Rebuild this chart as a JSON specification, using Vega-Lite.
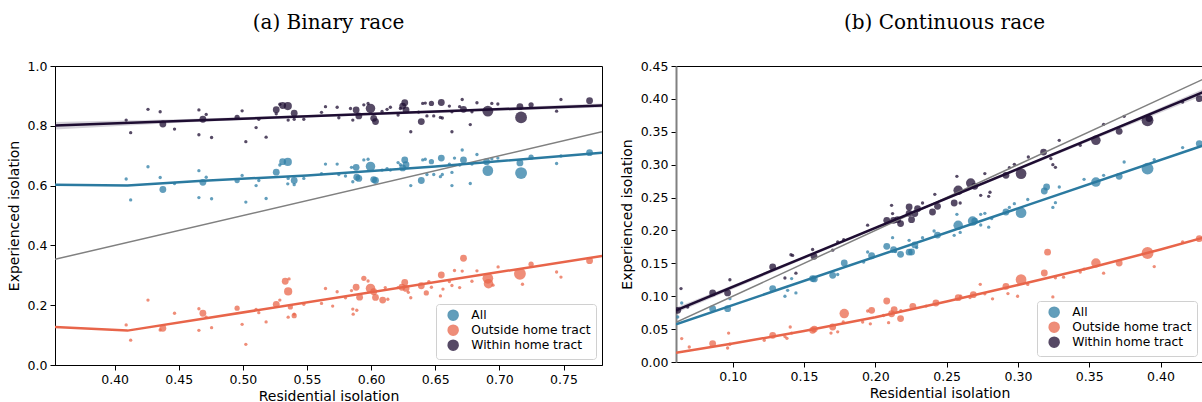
{
  "$schema": "https://vega.github.io/schema/vega-lite/v6.json",
  "padding": {"left": 6, "top": 12, "right": 0, "bottom": 0},
  "spacing": 17,
  "resolve": {"scale": {"color": "independent", "stroke": "independent", "size": "independent"}, "legend": {"color": "independent"}},
  "config": {
    "font": "DejaVu Sans",
    "axis": {"labelFont": "DejaVu Sans", "titleFont": "DejaVu Sans", "labelFontSize": 12.5, "titleFontSize": 14, "titleFontWeight": "normal", "labelColor": "#000", "titleColor": "#000", "tickColor": "#000", "domainColor": "#000", "tickSize": 5, "tickWidth": 1, "domainWidth": 1, "labelPadding": 3, "grid": false, "labelOverlap": false},
    "axisY": {"titlePadding": 6},
    "axisX": {"titlePadding": 4},
    "title": {"font": "DejaVu Serif", "fontSize": 20, "fontWeight": "normal", "color": "#000", "anchor": "middle", "baseline": "alphabetic", "offset": 27},
    "legend": {"orient": "bottom-right", "offset": 6, "labelFont": "DejaVu Sans", "labelFontSize": 12.3, "labelColor": "#000", "symbolType": "circle", "symbolSize": 100, "padding": 5, "rowPadding": -2, "strokeColor": "#d0d0d0", "fillColor": "rgba(255,255,255,0.85)", "cornerRadius": 3, "labelOffset": 12, "symbolOffset": 6},
    "view": {"stroke": "#000", "strokeWidth": 1}
  },
  "datasets": {
    "a_pts": [
      {"g":"Within home tract","x":0.409,"y":0.819,"s":1},{"g":"Within home tract","x":0.4125,"y":0.777,"s":1},{"g":"Within home tract","x":0.426,"y":0.855,"s":1},{"g":"Within home tract","x":0.4355,"y":0.847,"s":1},{"g":"Within home tract","x":0.4376,"y":0.806,"s":3},{"g":"Within home tract","x":0.4467,"y":0.789,"s":1},{"g":"Within home tract","x":0.4657,"y":0.853,"s":1},{"g":"Within home tract","x":0.4688,"y":0.822,"s":3},{"g":"Within home tract","x":0.4714,"y":0.838,"s":1},{"g":"Within home tract","x":0.4657,"y":0.770,"s":1},{"g":"Within home tract","x":0.4756,"y":0.761,"s":1},{"g":"Within home tract","x":0.4955,"y":0.828,"s":2},{"g":"Within home tract","x":0.4994,"y":0.850,"s":1},{"g":"Within home tract","x":0.5023,"y":0.747,"s":1},{"g":"Within home tract","x":0.5103,"y":0.794,"s":1},{"g":"Within home tract","x":0.5124,"y":0.822,"s":1},{"g":"Within home tract","x":0.5181,"y":0.762,"s":1},{"g":"Within home tract","x":0.526,"y":0.854,"s":3},{"g":"Within home tract","x":0.5288,"y":0.872,"s":1},{"g":"Within home tract","x":0.531,"y":0.868,"s":3},{"g":"Within home tract","x":0.535,"y":0.866,"s":4},{"g":"Within home tract","x":0.5353,"y":0.819,"s":1},{"g":"Within home tract","x":0.54,"y":0.842,"s":3},{"g":"Within home tract","x":0.54,"y":0.822,"s":1},{"g":"Within home tract","x":0.5475,"y":0.822,"s":1},{"g":"Within home tract","x":0.526,"y":0.84,"s":1},
      {"g":"Within home tract","x":0.5613,"y":0.845,"s":1},{"g":"Within home tract","x":0.5644,"y":0.864,"s":1},{"g":"Within home tract","x":0.5735,"y":0.862,"s":1},{"g":"Within home tract","x":0.5748,"y":0.827,"s":1},{"g":"Within home tract","x":0.5839,"y":0.858,"s":1},{"g":"Within home tract","x":0.5857,"y":0.819,"s":1},{"g":"Within home tract","x":0.5883,"y":0.853,"s":3},{"g":"Within home tract","x":0.5904,"y":0.833,"s":3},{"g":"Within home tract","x":0.5943,"y":0.870,"s":1},{"g":"Within home tract","x":0.5976,"y":0.875,"s":1},{"g":"Within home tract","x":0.5995,"y":0.858,"s":5},{"g":"Within home tract","x":0.602,"y":0.825,"s":3},{"g":"Within home tract","x":0.6034,"y":0.814,"s":3},{"g":"Within home tract","x":0.6085,"y":0.848,"s":1},{"g":"Within home tract","x":0.6124,"y":0.855,"s":1},{"g":"Within home tract","x":0.615,"y":0.862,"s":1},{"g":"Within home tract","x":0.621,"y":0.836,"s":1},{"g":"Within home tract","x":0.6228,"y":0.858,"s":1},{"g":"Within home tract","x":0.6246,"y":0.866,"s":3},{"g":"Within home tract","x":0.6262,"y":0.877,"s":3},{"g":"Within home tract","x":0.6272,"y":0.853,"s":3},{"g":"Within home tract","x":0.6309,"y":0.780,"s":1},{"g":"Within home tract","x":0.637,"y":0.846,"s":1},{"g":"Within home tract","x":0.6391,"y":0.814,"s":3},{"g":"Within home tract","x":0.6402,"y":0.875,"s":1},{"g":"Within home tract","x":0.6422,"y":0.876,"s":1},{"g":"Within home tract","x":0.6435,"y":0.833,"s":1},{"g":"Within home tract","x":0.647,"y":0.875,"s":2},{"g":"Within home tract","x":0.6488,"y":0.833,"s":1},{"g":"Within home tract","x":0.6547,"y":0.878,"s":3},{"g":"Within home tract","x":0.654,"y":0.828,"s":1},{"g":"Within home tract","x":0.6555,"y":0.826,"s":1},{"g":"Within home tract","x":0.661,"y":0.866,"s":1},{"g":"Within home tract","x":0.663,"y":0.847,"s":1},{"g":"Within home tract","x":0.663,"y":0.780,"s":1},{"g":"Within home tract","x":0.669,"y":0.864,"s":1},{"g":"Within home tract","x":0.671,"y":0.888,"s":1},{"g":"Within home tract","x":0.672,"y":0.855,"s":3},{"g":"Within home tract","x":0.6773,"y":0.804,"s":1},{"g":"Within home tract","x":0.6786,"y":0.847,"s":1},{"g":"Within home tract","x":0.6825,"y":0.877,"s":1},{"g":"Within home tract","x":0.691,"y":0.849,"s":6},{"g":"Within home tract","x":0.6941,"y":0.875,"s":1},{"g":"Within home tract","x":0.6988,"y":0.873,"s":1},{"g":"Within home tract","x":0.716,"y":0.864,"s":3},{"g":"Within home tract","x":0.7169,"y":0.828,"s":7},{"g":"Within home tract","x":0.7247,"y":0.870,"s":2},{"g":"Within home tract","x":0.7446,"y":0.849,"s":1},{"g":"Within home tract","x":0.748,"y":0.888,"s":1},{"g":"Within home tract","x":0.7703,"y":0.884,"s":3},
      {"g":"All","x":0.409,"y":0.622,"s":1},{"g":"All","x":0.4125,"y":0.552,"s":1},{"g":"All","x":0.426,"y":0.663,"s":1},{"g":"All","x":0.4355,"y":0.627,"s":1},{"g":"All","x":0.4376,"y":0.587,"s":3},{"g":"All","x":0.4467,"y":0.607,"s":1},{"g":"All","x":0.4657,"y":0.650,"s":1},{"g":"All","x":0.4688,"y":0.611,"s":3},{"g":"All","x":0.4714,"y":0.628,"s":1},{"g":"All","x":0.4657,"y":0.560,"s":1},{"g":"All","x":0.4756,"y":0.556,"s":1},{"g":"All","x":0.4955,"y":0.617,"s":2},{"g":"All","x":0.4994,"y":0.634,"s":1},{"g":"All","x":0.5023,"y":0.545,"s":1},{"g":"All","x":0.5103,"y":0.600,"s":1},{"g":"All","x":0.5124,"y":0.617,"s":1},{"g":"All","x":0.5181,"y":0.557,"s":1},{"g":"All","x":0.526,"y":0.645,"s":3},{"g":"All","x":0.5288,"y":0.669,"s":1},{"g":"All","x":0.531,"y":0.68,"s":3},{"g":"All","x":0.535,"y":0.679,"s":4},{"g":"All","x":0.5353,"y":0.624,"s":1},{"g":"All","x":0.54,"y":0.617,"s":3},{"g":"All","x":0.54,"y":0.603,"s":1},{"g":"All","x":0.535,"y":0.606,"s":1},{"g":"All","x":0.5475,"y":0.624,"s":1},
      {"g":"All","x":0.5613,"y":0.640,"s":1},{"g":"All","x":0.5644,"y":0.672,"s":1},{"g":"All","x":0.5735,"y":0.672,"s":1},{"g":"All","x":0.5748,"y":0.637,"s":1},{"g":"All","x":0.58,"y":0.632,"s":1},{"g":"All","x":0.5847,"y":0.661,"s":1},{"g":"All","x":0.5857,"y":0.613,"s":1},{"g":"All","x":0.5883,"y":0.661,"s":3},{"g":"All","x":0.5888,"y":0.628,"s":3},{"g":"All","x":0.5904,"y":0.624,"s":3},{"g":"All","x":0.5943,"y":0.686,"s":1},{"g":"All","x":0.5976,"y":0.688,"s":1},{"g":"All","x":0.5995,"y":0.664,"s":5},{"g":"All","x":0.602,"y":0.620,"s":3},{"g":"All","x":0.6034,"y":0.617,"s":3},{"g":"All","x":0.6085,"y":0.652,"s":1},{"g":"All","x":0.6124,"y":0.657,"s":1},{"g":"All","x":0.615,"y":0.652,"s":1},{"g":"All","x":0.621,"y":0.677,"s":1},{"g":"All","x":0.6228,"y":0.67,"s":1},{"g":"All","x":0.6246,"y":0.659,"s":3},{"g":"All","x":0.6262,"y":0.686,"s":3},{"g":"All","x":0.6272,"y":0.67,"s":3},{"g":"All","x":0.6309,"y":0.600,"s":1},{"g":"All","x":0.6391,"y":0.617,"s":3},{"g":"All","x":0.6402,"y":0.686,"s":1},{"g":"All","x":0.6422,"y":0.688,"s":1},{"g":"All","x":0.6435,"y":0.637,"s":1},{"g":"All","x":0.647,"y":0.680,"s":2},{"g":"All","x":0.6488,"y":0.637,"s":1},{"g":"All","x":0.6547,"y":0.692,"s":3},{"g":"All","x":0.654,"y":0.630,"s":1},{"g":"All","x":0.6555,"y":0.637,"s":1},{"g":"All","x":0.661,"y":0.672,"s":1},{"g":"All","x":0.663,"y":0.644,"s":1},{"g":"All","x":0.663,"y":0.600,"s":1},{"g":"All","x":0.665,"y":0.692,"s":1},{"g":"All","x":0.669,"y":0.669,"s":1},{"g":"All","x":0.671,"y":0.719,"s":1},{"g":"All","x":0.672,"y":0.686,"s":3},{"g":"All","x":0.6773,"y":0.607,"s":1},{"g":"All","x":0.6786,"y":0.672,"s":1},{"g":"All","x":0.6825,"y":0.704,"s":1},{"g":"All","x":0.691,"y":0.650,"s":6},{"g":"All","x":0.69,"y":0.68,"s":3},{"g":"All","x":0.6941,"y":0.69,"s":1},{"g":"All","x":0.6988,"y":0.692,"s":1},{"g":"All","x":0.716,"y":0.676,"s":3},{"g":"All","x":0.7169,"y":0.642,"s":7},{"g":"All","x":0.7247,"y":0.695,"s":2},{"g":"All","x":0.7446,"y":0.674,"s":1},{"g":"All","x":0.748,"y":0.699,"s":1},{"g":"All","x":0.7703,"y":0.710,"s":3},
      {"g":"Outside home tract","x":0.409,"y":0.134,"s":1},{"g":"Outside home tract","x":0.4125,"y":0.083,"s":1},{"g":"Outside home tract","x":0.426,"y":0.217,"s":1},{"g":"Outside home tract","x":0.4355,"y":0.117,"s":1},{"g":"Outside home tract","x":0.4376,"y":0.123,"s":3},{"g":"Outside home tract","x":0.4467,"y":0.173,"s":1},{"g":"Outside home tract","x":0.4657,"y":0.188,"s":1},{"g":"Outside home tract","x":0.4688,"y":0.173,"s":3},{"g":"Outside home tract","x":0.4714,"y":0.160,"s":1},{"g":"Outside home tract","x":0.4657,"y":0.116,"s":1},{"g":"Outside home tract","x":0.4756,"y":0.125,"s":1},{"g":"Outside home tract","x":0.4955,"y":0.190,"s":2},{"g":"Outside home tract","x":0.4994,"y":0.136,"s":1},{"g":"Outside home tract","x":0.5023,"y":0.069,"s":1},{"g":"Outside home tract","x":0.5103,"y":0.186,"s":1},{"g":"Outside home tract","x":0.5124,"y":0.175,"s":1},{"g":"Outside home tract","x":0.5181,"y":0.144,"s":1},{"g":"Outside home tract","x":0.526,"y":0.203,"s":3},{"g":"Outside home tract","x":0.5288,"y":0.217,"s":1},{"g":"Outside home tract","x":0.533,"y":0.280,"s":3},{"g":"Outside home tract","x":0.5353,"y":0.246,"s":4},{"g":"Outside home tract","x":0.536,"y":0.288,"s":1},{"g":"Outside home tract","x":0.5353,"y":0.160,"s":1},{"g":"Outside home tract","x":0.537,"y":0.194,"s":2},{"g":"Outside home tract","x":0.54,"y":0.17,"s":1},{"g":"Outside home tract","x":0.54,"y":0.165,"s":2},{"g":"Outside home tract","x":0.5475,"y":0.203,"s":1},
      {"g":"Outside home tract","x":0.5613,"y":0.206,"s":1},{"g":"Outside home tract","x":0.5644,"y":0.256,"s":1},{"g":"Outside home tract","x":0.570,"y":0.197,"s":1},{"g":"Outside home tract","x":0.5735,"y":0.245,"s":1},{"g":"Outside home tract","x":0.58,"y":0.225,"s":1},{"g":"Outside home tract","x":0.5847,"y":0.249,"s":1},{"g":"Outside home tract","x":0.5857,"y":0.187,"s":1},{"g":"Outside home tract","x":0.586,"y":0.17,"s":1},{"g":"Outside home tract","x":0.5888,"y":0.183,"s":1},{"g":"Outside home tract","x":0.5883,"y":0.26,"s":3},{"g":"Outside home tract","x":0.591,"y":0.227,"s":3},{"g":"Outside home tract","x":0.5943,"y":0.29,"s":2},{"g":"Outside home tract","x":0.5976,"y":0.281,"s":1},{"g":"Outside home tract","x":0.5995,"y":0.256,"s":5},{"g":"Outside home tract","x":0.602,"y":0.245,"s":3},{"g":"Outside home tract","x":0.6034,"y":0.226,"s":3},{"g":"Outside home tract","x":0.609,"y":0.217,"s":3},{"g":"Outside home tract","x":0.611,"y":0.259,"s":1},{"g":"Outside home tract","x":0.613,"y":0.22,"s":1},{"g":"Outside home tract","x":0.621,"y":0.259,"s":1},{"g":"Outside home tract","x":0.624,"y":0.26,"s":3},{"g":"Outside home tract","x":0.6262,"y":0.276,"s":3},{"g":"Outside home tract","x":0.6272,"y":0.256,"s":3},{"g":"Outside home tract","x":0.629,"y":0.243,"s":1},{"g":"Outside home tract","x":0.6309,"y":0.225,"s":1},{"g":"Outside home tract","x":0.6391,"y":0.265,"s":3},{"g":"Outside home tract","x":0.643,"y":0.241,"s":2},{"g":"Outside home tract","x":0.645,"y":0.279,"s":1},{"g":"Outside home tract","x":0.647,"y":0.26,"s":1},{"g":"Outside home tract","x":0.6547,"y":0.301,"s":3},{"g":"Outside home tract","x":0.654,"y":0.231,"s":1},{"g":"Outside home tract","x":0.656,"y":0.254,"s":1},{"g":"Outside home tract","x":0.661,"y":0.279,"s":1},{"g":"Outside home tract","x":0.663,"y":0.266,"s":1},{"g":"Outside home tract","x":0.665,"y":0.316,"s":1},{"g":"Outside home tract","x":0.669,"y":0.259,"s":1},{"g":"Outside home tract","x":0.671,"y":0.314,"s":1},{"g":"Outside home tract","x":0.672,"y":0.357,"s":3},{"g":"Outside home tract","x":0.6786,"y":0.28,"s":1},{"g":"Outside home tract","x":0.6825,"y":0.315,"s":1},{"g":"Outside home tract","x":0.691,"y":0.290,"s":6},{"g":"Outside home tract","x":0.6915,"y":0.272,"s":5},{"g":"Outside home tract","x":0.695,"y":0.267,"s":1},{"g":"Outside home tract","x":0.699,"y":0.328,"s":1},{"g":"Outside home tract","x":0.716,"y":0.305,"s":7},{"g":"Outside home tract","x":0.718,"y":0.27,"s":1},{"g":"Outside home tract","x":0.7247,"y":0.337,"s":2},{"g":"Outside home tract","x":0.7446,"y":0.311,"s":1},{"g":"Outside home tract","x":0.748,"y":0.294,"s":1},{"g":"Outside home tract","x":0.7703,"y":0.349,"s":3}
    ],
    "a_lines": [
      {"g":"Parity","x":0.3535,"y":0.3535},{"g":"Parity","x":0.78,"y":0.78},
      {"g":"Within home tract","x":0.3535,"y":0.801},{"g":"Within home tract","x":0.78,"y":0.868},
      {"g":"All","x":0.3535,"y":0.603},{"g":"All","x":0.41,"y":0.600},{"g":"All","x":0.4657,"y":0.615},{"g":"All","x":0.55,"y":0.634},{"g":"All","x":0.65,"y":0.664},{"g":"All","x":0.78,"y":0.710},
      {"g":"Outside home tract","x":0.3535,"y":0.127},{"g":"Outside home tract","x":0.41,"y":0.115},{"g":"Outside home tract","x":0.78,"y":0.365}
    ],
    "a_band": [
      {"x":0.3535,"lo":0.788,"hi":0.813},{"x":0.45,"lo":0.810,"hi":0.822},{"x":0.55,"lo":0.828,"hi":0.836},{"x":0.65,"lo":0.843,"hi":0.852},{"x":0.78,"lo":0.861,"hi":0.875}
    ],
    "b_pts": [
      {"g":"Within home tract","x":0.0637,"y":0.1116,"s":1},{"g":"Within home tract","x":0.0614,"y":0.0786,"s":3},{"g":"Within home tract","x":0.0684,"y":0.0836,"s":1},{"g":"Within home tract","x":0.0859,"y":0.105,"s":3},{"g":"Within home tract","x":0.0964,"y":0.105,"s":3},{"g":"Within home tract","x":0.098,"y":0.125,"s":1},{"g":"Within home tract","x":0.128,"y":0.1444,"s":3},{"g":"Within home tract","x":0.1408,"y":0.163,"s":1},{"g":"Within home tract","x":0.142,"y":0.162,"s":1},{"g":"Within home tract","x":0.1366,"y":0.1277,"s":1},{"g":"Within home tract","x":0.1443,"y":0.135,"s":1},{"g":"Within home tract","x":0.156,"y":0.171,"s":1},{"g":"Within home tract","x":0.157,"y":0.1607,"s":3},{"g":"Within home tract","x":0.1701,"y":0.170,"s":1},{"g":"Within home tract","x":0.1736,"y":0.1824,"s":1},{"g":"Within home tract","x":0.1778,"y":0.186,"s":1},{"g":"Within home tract","x":0.1946,"y":0.208,"s":1},{"g":"Within home tract","x":0.208,"y":0.2154,"s":3},{"g":"Within home tract","x":0.2114,"y":0.2382,"s":1},{"g":"Within home tract","x":0.2121,"y":0.2256,"s":1},{"g":"Within home tract","x":0.2128,"y":0.2154,"s":3},{"g":"Within home tract","x":0.2177,"y":0.2104,"s":3},{"g":"Within home tract","x":0.2237,"y":0.2356,"s":3},{"g":"Within home tract","x":0.2237,"y":0.226,"s":3},
      {"g":"Within home tract","x":0.2156,"y":0.2164,"s":3},{"g":"Within home tract","x":0.2254,"y":0.2164,"s":3},{"g":"Within home tract","x":0.2277,"y":0.2256,"s":3},{"g":"Within home tract","x":0.2296,"y":0.233,"s":3},{"g":"Within home tract","x":0.2331,"y":0.2417,"s":1},{"g":"Within home tract","x":0.2401,"y":0.228,"s":3},{"g":"Within home tract","x":0.2417,"y":0.2549,"s":1},{"g":"Within home tract","x":0.2436,"y":0.2367,"s":3},{"g":"Within home tract","x":0.2553,"y":0.2417,"s":3},{"g":"Within home tract","x":0.2581,"y":0.261,"s":5},{"g":"Within home tract","x":0.2572,"y":0.2823,"s":1},{"g":"Within home tract","x":0.2595,"y":0.2417,"s":1},{"g":"Within home tract","x":0.2669,"y":0.2721,"s":5},{"g":"Within home tract","x":0.2697,"y":0.267,"s":3},{"g":"Within home tract","x":0.2739,"y":0.2534,"s":1},{"g":"Within home tract","x":0.2768,"y":0.2864,"s":1},{"g":"Within home tract","x":0.2795,"y":0.2519,"s":1},{"g":"Within home tract","x":0.2804,"y":0.258,"s":1},{"g":"Within home tract","x":0.2916,"y":0.2838,"s":3},{"g":"Within home tract","x":0.294,"y":0.2955,"s":1},{"g":"Within home tract","x":0.2975,"y":0.3005,"s":1},{"g":"Within home tract","x":0.3022,"y":0.2864,"s":6},{"g":"Within home tract","x":0.3073,"y":0.3116,"s":1},{"g":"Within home tract","x":0.318,"y":0.3192,"s":3},{"g":"Within home tract","x":0.3231,"y":0.3092,"s":1},{"g":"Within home tract","x":0.3245,"y":0.30,"s":1},{"g":"Within home tract","x":0.3263,"y":0.296,"s":1},{"g":"Within home tract","x":0.329,"y":0.337,"s":1},{"g":"Within home tract","x":0.3437,"y":0.3294,"s":1},{"g":"Within home tract","x":0.3547,"y":0.337,"s":5},{"g":"Within home tract","x":0.3601,"y":0.3613,"s":1},{"g":"Within home tract","x":0.371,"y":0.3507,"s":3},{"g":"Within home tract","x":0.3745,"y":0.3735,"s":1},{"g":"Within home tract","x":0.3909,"y":0.3674,"s":7},{"g":"Within home tract","x":0.392,"y":0.37,"s":3},{"g":"Within home tract","x":0.4155,"y":0.3952,"s":1},{"g":"Within home tract","x":0.4272,"y":0.4004,"s":3},
      {"g":"All","x":0.0642,"y":0.0897,"s":1},{"g":"All","x":0.0614,"y":0.0684,"s":1},{"g":"All","x":0.0859,"y":0.0811,"s":3},{"g":"All","x":0.0964,"y":0.0811,"s":3},{"g":"All","x":0.098,"y":0.0963,"s":1},{"g":"All","x":0.128,"y":0.1116,"s":3},{"g":"All","x":0.1366,"y":0.0999,"s":1},{"g":"All","x":0.1385,"y":0.109,"s":1},{"g":"All","x":0.1413,"y":0.1268,"s":1},{"g":"All","x":0.1443,"y":0.105,"s":1},{"g":"All","x":0.156,"y":0.1268,"s":3},{"g":"All","x":0.1572,"y":0.1263,"s":3},{"g":"All","x":0.1701,"y":0.1318,"s":3},{"g":"All","x":0.1736,"y":0.133,"s":1},{"g":"All","x":0.1782,"y":0.1505,"s":3},{"g":"All","x":0.1918,"y":0.152,"s":1},{"g":"All","x":0.1946,"y":0.1672,"s":1},{"g":"All","x":0.1974,"y":0.1615,"s":3},{"g":"All","x":0.208,"y":0.1759,"s":3},{"g":"All","x":0.2121,"y":0.189,"s":1},{"g":"All","x":0.2128,"y":0.1708,"s":3},{"g":"All","x":0.2177,"y":0.1637,"s":3},{"g":"All","x":0.2237,"y":0.185,"s":1},{"g":"All","x":0.2237,"y":0.167,"s":3},
      {"g":"All","x":0.2142,"y":0.168,"s":1},{"g":"All","x":0.2254,"y":0.1672,"s":3},{"g":"All","x":0.2277,"y":0.178,"s":3},{"g":"All","x":0.229,"y":0.174,"s":1},{"g":"All","x":0.2331,"y":0.189,"s":1},{"g":"All","x":0.2412,"y":0.1992,"s":1},{"g":"All","x":0.2436,"y":0.193,"s":3},{"g":"All","x":0.2553,"y":0.1926,"s":1},{"g":"All","x":0.2581,"y":0.2078,"s":5},{"g":"All","x":0.2572,"y":0.2245,"s":1},{"g":"All","x":0.2595,"y":0.197,"s":1},{"g":"All","x":0.2682,"y":0.2143,"s":5},{"g":"All","x":0.2697,"y":0.2143,"s":3},{"g":"All","x":0.2739,"y":0.2083,"s":1},{"g":"All","x":0.2739,"y":0.2245,"s":1},{"g":"All","x":0.2768,"y":0.226,"s":1},{"g":"All","x":0.2795,"y":0.205,"s":1},{"g":"All","x":0.2816,"y":0.218,"s":1},{"g":"All","x":0.2916,"y":0.228,"s":3},{"g":"All","x":0.294,"y":0.235,"s":1},{"g":"All","x":0.2975,"y":0.2407,"s":1},{"g":"All","x":0.3022,"y":0.227,"s":6},{"g":"All","x":0.3069,"y":0.247,"s":1},{"g":"All","x":0.3185,"y":0.26,"s":3},{"g":"All","x":0.3201,"y":0.266,"s":3},{"g":"All","x":0.3245,"y":0.235,"s":1},{"g":"All","x":0.3263,"y":0.2422,"s":1},{"g":"All","x":0.329,"y":0.266,"s":1},{"g":"All","x":0.3464,"y":0.2777,"s":1},{"g":"All","x":0.3547,"y":0.2736,"s":5},{"g":"All","x":0.3601,"y":0.2838,"s":1},{"g":"All","x":0.371,"y":0.2823,"s":3},{"g":"All","x":0.3745,"y":0.304,"s":1},{"g":"All","x":0.3909,"y":0.294,"s":7},{"g":"All","x":0.3956,"y":0.3077,"s":1},{"g":"All","x":0.4155,"y":0.326,"s":1},{"g":"All","x":0.4272,"y":0.332,"s":3},
      {"g":"Outside home tract","x":0.0642,"y":0.0356,"s":1},{"g":"Outside home tract","x":0.0695,"y":0.0228,"s":1},{"g":"Outside home tract","x":0.0859,"y":0.028,"s":3},{"g":"Outside home tract","x":0.0964,"y":0.0213,"s":1},{"g":"Outside home tract","x":0.0971,"y":0.044,"s":1},{"g":"Outside home tract","x":0.098,"y":0.027,"s":1},{"g":"Outside home tract","x":0.1221,"y":0.033,"s":1},{"g":"Outside home tract","x":0.128,"y":0.0406,"s":3},{"g":"Outside home tract","x":0.1366,"y":0.0386,"s":1},{"g":"Outside home tract","x":0.138,"y":0.036,"s":1},{"g":"Outside home tract","x":0.1403,"y":0.0532,"s":1},{"g":"Outside home tract","x":0.1413,"y":0.044,"s":1},{"g":"Outside home tract","x":0.156,"y":0.0482,"s":3},{"g":"Outside home tract","x":0.1572,"y":0.05,"s":3},{"g":"Outside home tract","x":0.1689,"y":0.044,"s":1},{"g":"Outside home tract","x":0.1701,"y":0.0532,"s":3},{"g":"Outside home tract","x":0.1736,"y":0.0458,"s":1},{"g":"Outside home tract","x":0.1782,"y":0.0736,"s":5},{"g":"Outside home tract","x":0.1775,"y":0.061,"s":1},{"g":"Outside home tract","x":0.1911,"y":0.0608,"s":1},{"g":"Outside home tract","x":0.1946,"y":0.0776,"s":1},{"g":"Outside home tract","x":0.1974,"y":0.0786,"s":3},{"g":"Outside home tract","x":0.1965,"y":0.058,"s":1},{"g":"Outside home tract","x":0.208,"y":0.0927,"s":3},{"g":"Outside home tract","x":0.2057,"y":0.0707,"s":1},{"g":"Outside home tract","x":0.2093,"y":0.0598,"s":1},{"g":"Outside home tract","x":0.2114,"y":0.0733,"s":3},{"g":"Outside home tract","x":0.2132,"y":0.0796,"s":3},{"g":"Outside home tract","x":0.2179,"y":0.078,"s":1},{"g":"Outside home tract","x":0.2177,"y":0.066,"s":3},
      {"g":"Outside home tract","x":0.2263,"y":0.0846,"s":3},{"g":"Outside home tract","x":0.2356,"y":0.085,"s":1},{"g":"Outside home tract","x":0.2425,"y":0.0897,"s":3},{"g":"Outside home tract","x":0.2581,"y":0.0978,"s":3},{"g":"Outside home tract","x":0.2599,"y":0.1,"s":1},{"g":"Outside home tract","x":0.2664,"y":0.098,"s":1},{"g":"Outside home tract","x":0.2687,"y":0.1024,"s":3},{"g":"Outside home tract","x":0.2736,"y":0.1181,"s":1},{"g":"Outside home tract","x":0.2768,"y":0.1037,"s":1},{"g":"Outside home tract","x":0.2822,"y":0.096,"s":1},{"g":"Outside home tract","x":0.2916,"y":0.115,"s":3},{"g":"Outside home tract","x":0.293,"y":0.104,"s":1},{"g":"Outside home tract","x":0.2998,"y":0.1,"s":1},{"g":"Outside home tract","x":0.3022,"y":0.1252,"s":6},{"g":"Outside home tract","x":0.3069,"y":0.118,"s":1},{"g":"Outside home tract","x":0.3185,"y":0.1353,"s":3},{"g":"Outside home tract","x":0.3208,"y":0.167,"s":3},{"g":"Outside home tract","x":0.3245,"y":0.099,"s":1},{"g":"Outside home tract","x":0.3263,"y":0.128,"s":1},{"g":"Outside home tract","x":0.332,"y":0.129,"s":1},{"g":"Outside home tract","x":0.3437,"y":0.1368,"s":1},{"g":"Outside home tract","x":0.3464,"y":0.1412,"s":1},{"g":"Outside home tract","x":0.3547,"y":0.1505,"s":5},{"g":"Outside home tract","x":0.3601,"y":0.135,"s":1},{"g":"Outside home tract","x":0.371,"y":0.1505,"s":3},{"g":"Outside home tract","x":0.3909,"y":0.1657,"s":7},{"g":"Outside home tract","x":0.3956,"y":0.145,"s":1},{"g":"Outside home tract","x":0.4155,"y":0.1824,"s":1},{"g":"Outside home tract","x":0.4272,"y":0.1875,"s":3}
    ],
    "b_lines": [
      {"g":"Parity","x":0.0602,"y":0.0602},{"g":"Parity","x":0.4298,"y":0.4298},
      {"g":"Within home tract","x":0.0602,"y":0.0786},{"g":"Within home tract","x":0.4298,"y":0.41},
      {"g":"All","x":0.0602,"y":0.0573},{"g":"All","x":0.4298,"y":0.329},
      {"g":"Outside home tract","x":0.0602,"y":0.014},{"g":"Outside home tract","x":0.10,"y":0.028},{"g":"Outside home tract","x":0.15,"y":0.047},{"g":"Outside home tract","x":0.20,"y":0.068},{"g":"Outside home tract","x":0.25,"y":0.092},{"g":"Outside home tract","x":0.30,"y":0.117},{"g":"Outside home tract","x":0.35,"y":0.143},{"g":"Outside home tract","x":0.40,"y":0.171},{"g":"Outside home tract","x":0.4298,"y":0.189}
    ],
    "b_band": [
      {"x":0.0602,"lo":0.0745,"hi":0.0827},{"x":0.15,"lo":0.1566,"hi":0.1600},{"x":0.25,"lo":0.2468,"hi":0.2500},{"x":0.35,"lo":0.3357,"hi":0.3395},{"x":0.4298,"lo":0.4050,"hi":0.4150}
    ]
  },
  "hconcat": [
    {
      "width": 547,
      "height": 299,
      "title": "(a) Binary race",
      "layer": [
        {
          "data": {"name": "a_band"},
          "mark": {"type": "area", "color": "#1e0d32", "opacity": 0.18, "clip": true},
          "encoding": {
            "x": {"field": "x", "type": "quantitative", "scale": {"domain": [0.3535, 0.78], "nice": false, "zero": false}, "axis": {"title": "Residential isolation", "values": [0.4, 0.45, 0.5, 0.55, 0.6, 0.65, 0.7, 0.75], "format": ".2f"}},
            "y": {"field": "lo", "type": "quantitative", "scale": {"domain": [0, 1], "nice": false, "zero": false}, "axis": {"title": "Experienced isolation", "values": [0, 0.2, 0.4, 0.6, 0.8, 1.0], "format": ".1f"}},
            "y2": {"field": "hi"}
          }
        },
        {
          "data": {"name": "a_pts"},
          "mark": {"type": "circle", "opacity": 0.75, "clip": true},
          "encoding": {
            "x": {"field": "x", "type": "quantitative"},
            "y": {"field": "y", "type": "quantitative"},
            "size": {"field": "s", "type": "quantitative", "scale": {"type": "pow", "exponent": 1.3, "domain": [0, 7], "range": [0, 140]}, "legend": null},
            "color": {"field": "g", "type": "nominal", "scale": {"domain": ["All", "Outside home tract", "Within home tract"], "range": ["#2e7ea5", "#e9674b", "#1e0d32"]}, "legend": {"title": null}}
          }
        },
        {
          "data": {"name": "a_lines"},
          "transform": [{"filter": "datum.g === 'Parity'"}],
          "mark": {"type": "line", "color": "#808080", "strokeWidth": 1.5, "clip": true},
          "encoding": {
            "x": {"field": "x", "type": "quantitative"},
            "y": {"field": "y", "type": "quantitative"}
          }
        },
        {
          "data": {"name": "a_lines"},
          "transform": [{"filter": "datum.g !== 'Parity'"}],
          "mark": {"type": "line", "strokeWidth": 2.5, "clip": true},
          "encoding": {
            "x": {"field": "x", "type": "quantitative"},
            "y": {"field": "y", "type": "quantitative"},
            "stroke": {"field": "g", "type": "nominal", "scale": {"domain": ["All", "Outside home tract", "Within home tract"], "range": ["#2b7aa0", "#e8654a", "#1e0d32"]}, "legend": null}
          }
        }
      ]
    },
    {
      "width": 527,
      "height": 296,
      "title": {"text": "(b) Continuous race", "dx": 5},
      "view": {"stroke": null},
      "resolve": {"axis": {"x": "independent"}},
      "layer": [
        {
          "data": {"name": "b_band"},
          "mark": {"type": "area", "color": "#1e0d32", "opacity": 0.18, "clip": true},
          "encoding": {
            "x": {"field": "x", "type": "quantitative", "scale": {"domain": [0.0602, 0.4298], "nice": false, "zero": false}, "axis": {"title": "Residential isolation", "values": [0.1, 0.15, 0.2, 0.25, 0.3, 0.35, 0.4], "format": ".2f"}},
            "y": {"field": "lo", "type": "quantitative", "scale": {"domain": [0, 0.45], "nice": false, "zero": false}, "axis": {"title": "Experienced isolation", "values": [0, 0.05, 0.1, 0.15, 0.2, 0.25, 0.3, 0.35, 0.4, 0.45], "format": ".2f", "labelOverlap": false, "domainColor": "#808080", "domainWidth": 2}},
            "y2": {"field": "hi"}
          }
        },
        {
          "data": {"name": "b_pts"},
          "mark": {"type": "circle", "opacity": 0.75, "clip": true},
          "encoding": {
            "x": {"field": "x", "type": "quantitative", "axis": {"orient": "top", "title": null, "labels": false, "ticks": false, "domain": true}},
            "y": {"field": "y", "type": "quantitative", "axis": {"title": "Experienced isolation", "values": [0, 0.05, 0.1, 0.15, 0.2, 0.25, 0.3, 0.35, 0.4, 0.45], "format": ".2f", "labelOverlap": false, "domainColor": "#808080", "domainWidth": 2}},
            "size": {"field": "s", "type": "quantitative", "scale": {"type": "pow", "exponent": 1.3, "domain": [0, 7], "range": [0, 140]}, "legend": null},
            "color": {"field": "g", "type": "nominal", "scale": {"domain": ["All", "Outside home tract", "Within home tract"], "range": ["#2e7ea5", "#e9674b", "#1e0d32"]}, "legend": {"title": null}}
          }
        },
        {
          "data": {"name": "b_lines"},
          "transform": [{"filter": "datum.g === 'Parity'"}],
          "mark": {"type": "line", "color": "#808080", "strokeWidth": 1.5, "clip": true},
          "encoding": {
            "x": {"field": "x", "type": "quantitative", "axis": null},
            "y": {"field": "y", "type": "quantitative", "axis": {"title": "Experienced isolation", "values": [0, 0.05, 0.1, 0.15, 0.2, 0.25, 0.3, 0.35, 0.4, 0.45], "format": ".2f", "labelOverlap": false, "domainColor": "#808080", "domainWidth": 2}}
          }
        },
        {
          "data": {"name": "b_lines"},
          "transform": [{"filter": "datum.g !== 'Parity'"}],
          "mark": {"type": "line", "strokeWidth": 2.5, "clip": true},
          "encoding": {
            "x": {"field": "x", "type": "quantitative", "axis": null},
            "y": {"field": "y", "type": "quantitative", "axis": {"title": "Experienced isolation", "values": [0, 0.05, 0.1, 0.15, 0.2, 0.25, 0.3, 0.35, 0.4, 0.45], "format": ".2f", "labelOverlap": false, "domainColor": "#808080", "domainWidth": 2}},
            "stroke": {"field": "g", "type": "nominal", "scale": {"domain": ["All", "Outside home tract", "Within home tract"], "range": ["#2b7aa0", "#e8654a", "#1e0d32"]}, "legend": null}
          }
        }
      ]
    }
  ]
}
